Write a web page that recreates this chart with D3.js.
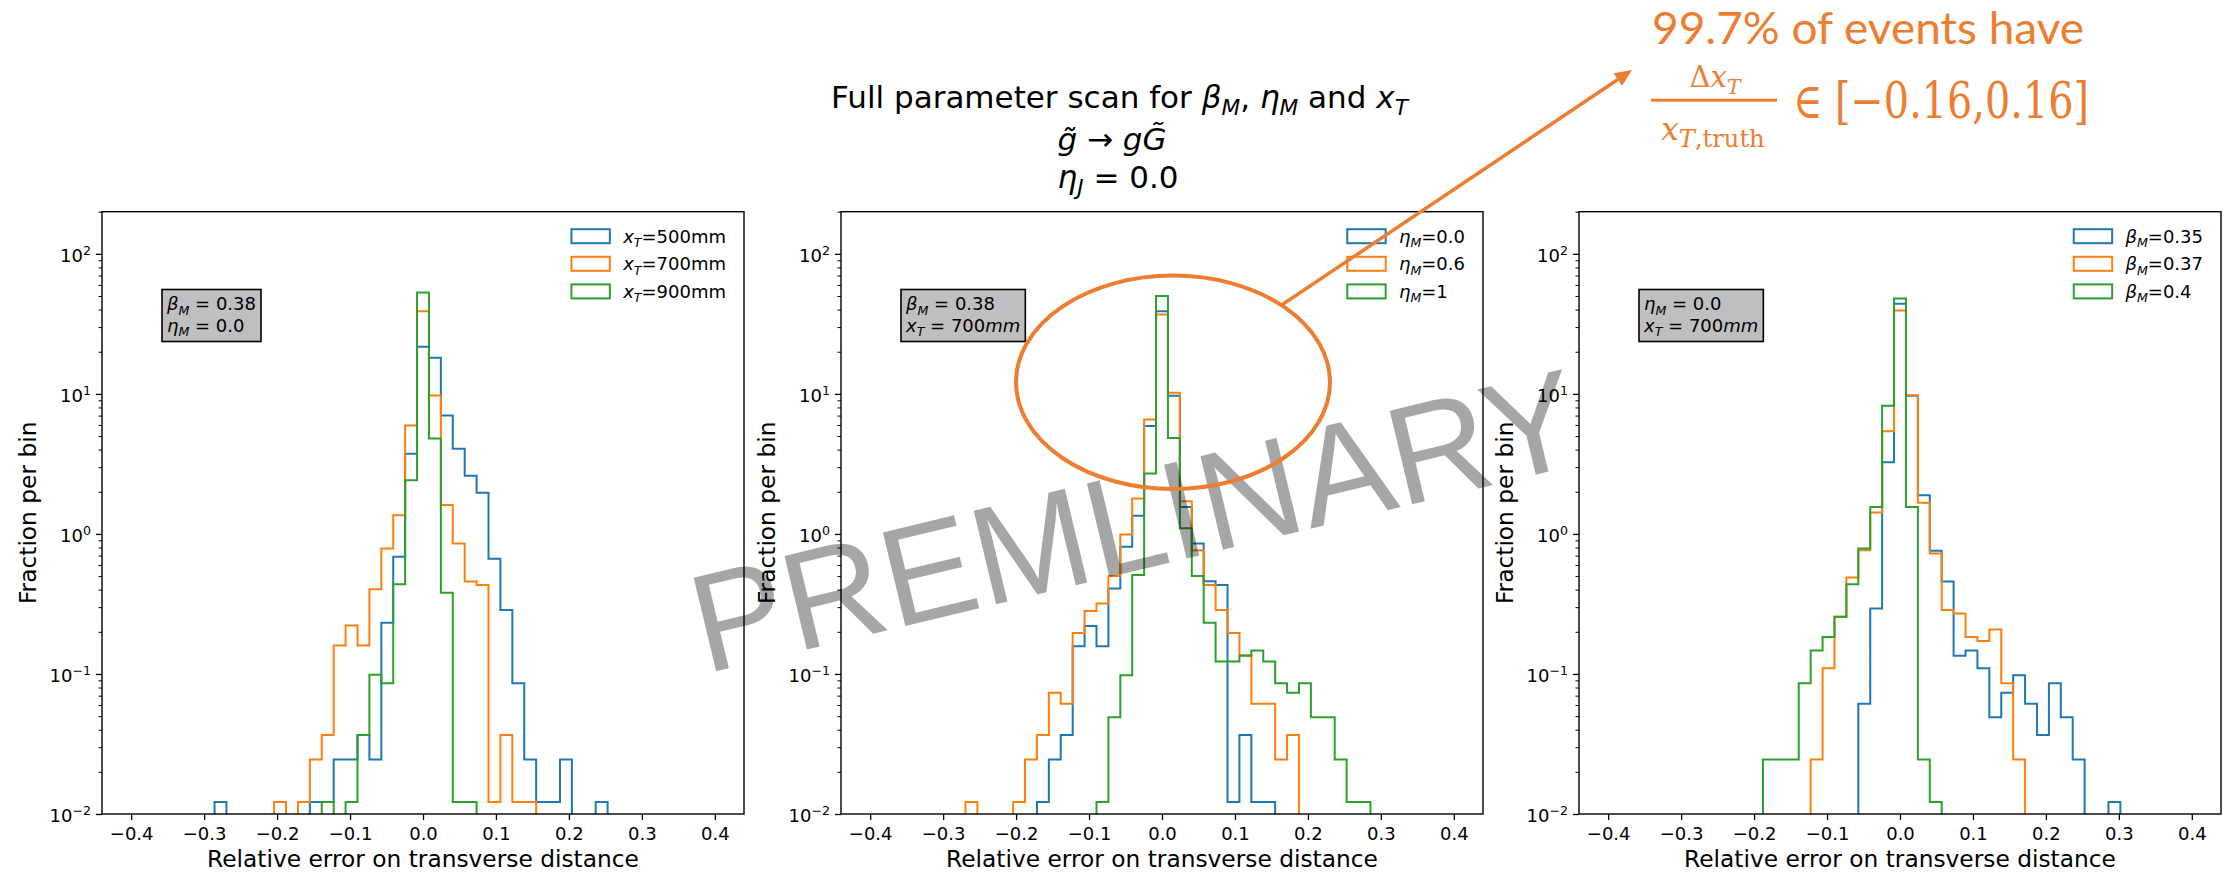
<!DOCTYPE html>
<html>
<head>
<meta charset="utf-8">
<script src="https://cdn.jsdelivr.net/npm/d3@7/dist/d3.min.js"></script>
<style>
  html, body { margin: 0; padding: 0; background: #ffffff; }
  svg { display: block; }
</style>
</head>
<body>
<svg id="fig" width="2239" height="873"></svg>
<script>
// ---------------------------------------------------------------
// Histogram binning (shared by every series)
// ---------------------------------------------------------------
const BIN_MIN = -0.4;
const BIN_MAX = 0.4;
const N_BINS = 49;

// x tick values and y decade ticks
const xTicks = [-0.4, -0.3, -0.2, -0.1, 0.0, 0.1, 0.2, 0.3, 0.4];
const xTickLabels = ["\u22120.4", "\u22120.3", "\u22120.2", "\u22120.1", "0.0", "0.1", "0.2", "0.3", "0.4"];
const yDecades = [0.01, 0.1, 1, 10, 100];
const yTickExponents = ["\u22122", "\u22121", "0", "1", "2"];

// ---------------------------------------------------------------
// Fraction per bin, one value per bin (49 bins from -0.4 to 0.4)
// ---------------------------------------------------------------
// Panel 1: scan over x_T (beta_M = 0.38, eta_M = 0.0)
const xT500 = [0,0,0,0,0,0,0,0.0122,0,0,
  0,0,0,0,0,0.0122,0.0122,0.0245,0.0245,0.0367,
  0.0245,0.232,0.687,3.73,21.7,18.1,7.01,4.05,2.60,1.97,
  0.664,0.286,0.0857,0.0245,0.0122,0.0122,0.0245,0,0,0.0122,
  0,0,0,0,0,0,0,0,0];
const xT700 = [0,0,0,0,0,0,0,0,0,0,
  0,0,0.0122,0,0.0122,0.0245,0.0367,0.160,0.222,0.160,
  0.402,0.787,1.36,5.95,38.9,9.74,1.61,0.855,0.458,0.431,
  0.0122,0.0367,0.0122,0.0122,0,0,0,0,0,0,
  0,0,0,0,0,0,0,0,0];
const xT900 = [0,0,0,0,0,0,0,0,0,0,
  0,0,0,0,0,0,0.0122,0,0.0122,0.0367,
  0.0987,0.0857,0.438,2.42,52.9,4.80,0.380,0.0122,0.0122,0,
  0,0,0,0,0,0,0,0,0,0,
  0,0,0,0,0,0,0,0,0];

// Panel 2: scan over eta_M (beta_M = 0.38, x_T = 700 mm)
const etaM00 = [0,0,0,0,0,0,0,0,0,0,
  0,0,0,0,0.0122,0.0245,0.0367,0.158,0.220,0.158,
  0.408,0.809,1.35,5.91,38.9,9.68,1.56,0.855,0.460,0.431,
  0.0122,0.0367,0.0122,0.0122,0,0,0,0,0,0,
  0,0,0,0,0,0,0,0,0];
const etaM06 = [0,0,0,0,0,0,0,0,0.0122,0,
  0,0,0.0122,0.0245,0.0367,0.0735,0.0613,0.196,0.282,0.318,
  0.500,0.991,1.79,6.56,36.9,10.2,1.71,0.766,0.431,0.286,
  0.196,0.136,0.0613,0.0613,0.0245,0.0367,0,0,0,0,
  0,0,0,0,0,0,0,0,0];
const etaM10 = [0,0,0,0,0,0,0,0,0,0,
  0,0,0,0,0,0,0,0,0,0.0122,
  0.049,0.098,0.510,2.70,50.1,4.85,1.10,0.500,0.232,0.1225,
  0.1225,0.1348,0.147,0.1225,0.0858,0.0735,0.0858,0.049,0.049,0.0245,
  0.0122,0.0122,0,0,0,0,0,0,0];

// Panel 3: scan over beta_M (eta_M = 0.0, x_T = 700 mm)
const betaM035 = [0,0,0,0,0,0,0,0,0,0,
  0,0,0,0,0,0,0,0,0,0,
  0,0.0613,0.294,3.25,44.0,9.70,1.89,0.758,0.458,0.135,
  0.147,0.110,0.049,0.0735,0.098,0.0613,0.0367,0.0857,0.049,0.0245,
  0,0,0.0122,0,0,0,0,0,0];
const betaM037 = [0,0,0,0,0,0,0,0,0,0,
  0,0,0,0,0,0,0,0.0245,0.110,0.256,
  0.489,0.766,1.42,5.42,39.4,9.79,1.67,0.726,0.286,0.270,
  0.184,0.172,0.208,0.0857,0.0245,0,0,0,0,0,
  0,0,0,0,0,0,0,0,0];
const betaM040 = [0,0,0,0,0,0,0,0,0,0,
  0,0,0,0.0245,0.0245,0.0245,0.0857,0.147,0.184,0.256,
  0.438,0.787,1.56,8.22,48.0,1.56,0.0245,0.0122,0,0,
  0,0,0,0,0,0,0,0,0,0,
  0,0,0,0,0,0,0,0,0];

const seriesColors = ["#1f77b4", "#ff7f0e", "#2ca02c"];

// Legend entries: [text, style] pieces (i = italic, si = italic subscript, n = normal, sn = normal subscript)
const legendP1 = [
  [["x","i"],["T","si"],["=500mm","n"]],
  [["x","i"],["T","si"],["=700mm","n"]],
  [["x","i"],["T","si"],["=900mm","n"]]
];
const legendP2 = [
  [["\u03b7","i"],["M","si"],["=0.0","n"]],
  [["\u03b7","i"],["M","si"],["=0.6","n"]],
  [["\u03b7","i"],["M","si"],["=1","n"]]
];
const legendP3 = [
  [["\u03b2","i"],["M","si"],["=0.35","n"]],
  [["\u03b2","i"],["M","si"],["=0.37","n"]],
  [["\u03b2","i"],["M","si"],["=0.4","n"]]
];

// Fixed-parameter boxes
const boxP1 = [
  [["\u03b2","i"],["M","si"],[" = 0.38","n"]],
  [["\u03b7","i"],["M","si"],[" = 0.0","n"]]
];
const boxP2 = [
  [["\u03b2","i"],["M","si"],[" = 0.38","n"]],
  [["x","i"],["T","si"],[" = 700","n"],["mm","i"]]
];
const boxP3 = [
  [["\u03b7","i"],["M","si"],[" = 0.0","n"]],
  [["x","i"],["T","si"],[" = 700","n"],["mm","i"]]
];

const titleLines = [
  [["Full parameter scan for ","n"],["\u03b2","i"],["M","si"],[", ","n"],["\u03b7","i"],["M","si"],[" and ","n"],["x","i"],["T","si"]],
  [["g\u0303","i"],[" \u2192 ","n"],["g","i"],["G\u0303","i"]],
  [["\u03b7","i"],["J","si"],[" = 0.0","n"]]
];

const panels = [
  { series: [xT500, xT700, xT900], legend: legendP1, box: boxP1 },
  { series: [etaM00, etaM06, etaM10], legend: legendP2, box: boxP2 },
  { series: [betaM035, betaM037, betaM040], legend: legendP3, box: boxP3 }
];

// ---------------------------------------------------------------
// Layout
// ---------------------------------------------------------------
const AX_TOP = 211.7, AX_BOTTOM = 814, AX_W = 642;
const AX_LEFTS = [102, 841, 1579];
const FONT = "'DejaVu Sans', sans-serif";
const TICK_FS = 18, LABEL_FS = 23.3, LEGEND_FS = 18, BOX_FS = 18, TITLE_FS = 31;
const ANNOT_COLOR = "#ed7d31";

const svg = d3.select("#fig");

// write a mixed normal / italic / subscript string as tspans
function mathText(textSel, parts, fs, subScale = 0.7) {
  let shifted = false;
  parts.forEach(([t, st]) => {
    const ts = textSel.append("tspan").text(t);
    const isSub = st.startsWith("s");
    if (st.endsWith("i")) ts.attr("font-style", "italic");
    if (isSub) {
      ts.attr("font-size", subScale * fs);
      if (!shifted) { ts.attr("dy", 0.24 * fs); shifted = true; }
    } else if (shifted) {
      ts.attr("dy", -0.24 * fs); shifted = false;
    }
  });
  return textSel;
}

const binWidth = (BIN_MAX - BIN_MIN) / N_BINS;

panels.forEach((p, pi) => {
  const left = AX_LEFTS[pi];
  const right = left + AX_W;
  const x = d3.scaleLinear().domain([-0.44, 0.44]).range([left, right]);
  const y = d3.scaleLog().domain([0.01, 200]).range([AX_BOTTOM, AX_TOP]);

  const g = svg.append("g");
  const clipId = "clip" + pi;
  svg.append("clipPath").attr("id", clipId)
    .append("rect").attr("x", left).attr("y", AX_TOP)
    .attr("width", AX_W).attr("height", AX_BOTTOM - AX_TOP);

  // step histograms
  p.series.forEach((vals, si) => {
    const yv = v => v > 0 ? y(v) : AX_BOTTOM + 20;
    const pts = [[x(BIN_MIN), AX_BOTTOM + 20]];
    vals.forEach((v, i) => {
      const e0 = BIN_MIN + i * binWidth, e1 = BIN_MIN + (i + 1) * binWidth;
      pts.push([x(e0), yv(v)], [x(e1), yv(v)]);
    });
    pts.push([x(BIN_MAX), AX_BOTTOM + 20]);
    g.append("path")
      .attr("d", d3.line()(pts))
      .attr("fill", "none")
      .attr("stroke", seriesColors[si])
      .attr("stroke-width", 2)
      .attr("stroke-linejoin", "miter")
      .attr("clip-path", `url(#${clipId})`);
  });

  // x axis
  const xAxis = d3.axisBottom(x).tickValues(xTicks).tickSize(6)
    .tickFormat((d, i) => xTickLabels[i]);
  const gx = g.append("g").attr("transform", `translate(0,${AX_BOTTOM})`).call(xAxis);
  gx.select(".domain").remove();
  gx.selectAll(".tick line").attr("stroke", "#000").attr("stroke-width", 1.3);
  gx.selectAll(".tick text").attr("font-family", FONT).attr("font-size", TICK_FS)
    .attr("fill", "#000").attr("dy", null).attr("y", 25.5);

  // y axis: major decades with 10^n labels, plus minor ticks
  const minor = [];
  [0.01, 0.1, 1, 10, 100].forEach(dec => {
    for (let k = 2; k <= 9; k++) { if (dec * k <= 200) minor.push(dec * k); }
  });
  const gyMinor = g.append("g").attr("transform", `translate(${left},0)`)
    .call(d3.axisLeft(y).tickValues(minor).tickSize(3.5).tickFormat(""));
  gyMinor.select(".domain").remove();
  gyMinor.selectAll(".tick line").attr("stroke", "#000").attr("stroke-width", 1);

  const gy = g.append("g").attr("transform", `translate(${left},0)`)
    .call(d3.axisLeft(y).tickValues(yDecades).tickSize(6).tickFormat(""));
  gy.select(".domain").remove();
  gy.selectAll(".tick line").attr("stroke", "#000").attr("stroke-width", 1.3);
  yDecades.forEach((d, i) => {
    const t = g.append("text")
      .attr("x", left - 11).attr("y", y(d) + 8.4)
      .attr("text-anchor", "end")
      .attr("font-family", FONT).attr("font-size", TICK_FS).attr("fill", "#000");
    t.append("tspan").text("10");
    t.append("tspan").text(yTickExponents[i]).attr("font-size", 12.6).attr("dy", -7.5);
  });

  // frame
  g.append("rect").attr("x", left).attr("y", AX_TOP)
    .attr("width", AX_W).attr("height", AX_BOTTOM - AX_TOP)
    .attr("fill", "none").attr("stroke", "#000").attr("stroke-width", 1.4);

  // axis labels
  g.append("text").attr("x", (left + right) / 2).attr("y", 867)
    .attr("text-anchor", "middle").attr("font-family", FONT)
    .attr("font-size", LABEL_FS).attr("fill", "#000")
    .text("Relative error on transverse distance");
  g.append("text")
    .attr("transform", `translate(${left - 66},${(AX_TOP + AX_BOTTOM) / 2}) rotate(-90)`)
    .attr("text-anchor", "middle").attr("font-family", FONT)
    .attr("font-size", LABEL_FS).attr("fill", "#000")
    .text("Fraction per bin");

  // legend (right aligned, outline patches)
  const legTexts = p.legend.map((parts, r) => {
    const t = g.append("text").attr("font-family", FONT).attr("font-size", LEGEND_FS)
      .attr("fill", "#000").attr("y", 242.7 + 27.6 * r);
    return mathText(t, parts, LEGEND_FS);
  });
  const maxW = d3.max(legTexts, t => t.node().getComputedTextLength());
  const textX = right - 18 - maxW;
  legTexts.forEach((t, r) => {
    t.attr("x", textX);
    g.append("rect").attr("x", textX - 13.3 - 38.4).attr("y", 229.2 + 27.6 * r)
      .attr("width", 38.4).attr("height", 14)
      .attr("fill", "none").attr("stroke", seriesColors[r]).attr("stroke-width", 2);
  });

  // parameter box
  const bx = left + 60, by = AX_TOP + 77.8;
  const boxG = g.append("g");
  const bRect = boxG.append("rect");
  const bTexts = p.box.map((parts, r) => {
    const t = boxG.append("text").attr("font-family", FONT).attr("font-size", BOX_FS)
      .attr("fill", "#000").attr("x", bx + 5).attr("y", by + 20.7 + 21.7 * r);
    return mathText(t, parts, BOX_FS);
  });
  const bw = d3.max(bTexts, t => t.node().getComputedTextLength()) + 10;
  bRect.attr("x", bx).attr("y", by).attr("width", bw).attr("height", 52)
    .attr("fill", "#bfbfbf").attr("stroke", "#000").attr("stroke-width", 1.6);
});

// ---------------------------------------------------------------
// Figure title
// ---------------------------------------------------------------
const titleX = [1119.5, 1112, 1118];
const titleBaselines = [108, 150, 188];
titleLines.forEach((parts, i) => {
  const t = svg.append("text").attr("x", titleX[i]).attr("y", titleBaselines[i])
    .attr("text-anchor", "middle").attr("font-family", FONT)
    .attr("font-size", TITLE_FS).attr("fill", "#000");
  mathText(t, parts, TITLE_FS);
});

// ---------------------------------------------------------------
// Watermark
// ---------------------------------------------------------------
svg.append("text")
  .attr("transform", "translate(1135,521) rotate(-13.5)")
  .attr("text-anchor", "middle").attr("dominant-baseline", "central")
  .attr("font-family", "'Liberation Sans', Arial, sans-serif")
  .attr("font-size", 140).attr("fill", "#000").attr("fill-opacity", 0.35)
  .text("PREMLINARY");

// ---------------------------------------------------------------
// Call-out: ellipse around the peak, arrow and statement
// ---------------------------------------------------------------
const ann = svg.append("g");
ann.append("ellipse").attr("cx", 1173).attr("cy", 382.3).attr("rx", 157).attr("ry", 106.7)
  .attr("fill", "none").attr("stroke", ANNOT_COLOR).attr("stroke-width", 4);

const a0 = [1281.7, 305], a1 = [1632, 70];
const ang = Math.atan2(a1[1] - a0[1], a1[0] - a0[0]);
const headLen = 17, headHalf = 7.5;
const base = [a1[0] - headLen * Math.cos(ang), a1[1] - headLen * Math.sin(ang)];
ann.append("line").attr("x1", a0[0]).attr("y1", a0[1]).attr("x2", base[0]).attr("y2", base[1])
  .attr("stroke", ANNOT_COLOR).attr("stroke-width", 3.5);
ann.append("polygon").attr("fill", ANNOT_COLOR).attr("points", [
  a1,
  [base[0] + headHalf * Math.sin(ang), base[1] - headHalf * Math.cos(ang)],
  [base[0] - headHalf * Math.sin(ang), base[1] + headHalf * Math.cos(ang)]
].map(p => p.join(",")).join(" "));

ann.append("text").attr("x", 1652).attr("y", 44)
  .attr("font-family", "Lato, 'Open Sans', sans-serif").attr("font-size", 44)
  .attr("fill", ANNOT_COLOR)
  .attr("textLength", 432).attr("lengthAdjust", "spacingAndGlyphs")
  .text("99.7% of events have");

const SERIF = "'DejaVu Serif', serif";
const num = ann.append("text").attr("x", 1715).attr("y", 87.3).attr("text-anchor", "middle")
  .attr("font-family", SERIF).attr("font-size", 29).attr("fill", ANNOT_COLOR);
mathText(num, [["\u0394","n"],["x","i"],["T","si"]], 29);
ann.append("rect").attr("x", 1651).attr("y", 98.7).attr("width", 126).attr("height", 3)
  .attr("fill", ANNOT_COLOR);
const den = ann.append("text").attr("x", 1713).attr("y", 140).attr("text-anchor", "middle")
  .attr("font-family", SERIF).attr("font-size", 31).attr("fill", ANNOT_COLOR);
mathText(den, [["x","i"],["T","si"],[",truth","sn"]], 31, 0.78);
ann.append("text").attr("x", 1793).attr("y", 118)
  .attr("font-family", SERIF).attr("font-size", 50).attr("fill", ANNOT_COLOR)
  .attr("textLength", 296).attr("lengthAdjust", "spacingAndGlyphs")
  .text("\u2208 [\u22120.16,0.16]");
</script>
</body>
</html>
